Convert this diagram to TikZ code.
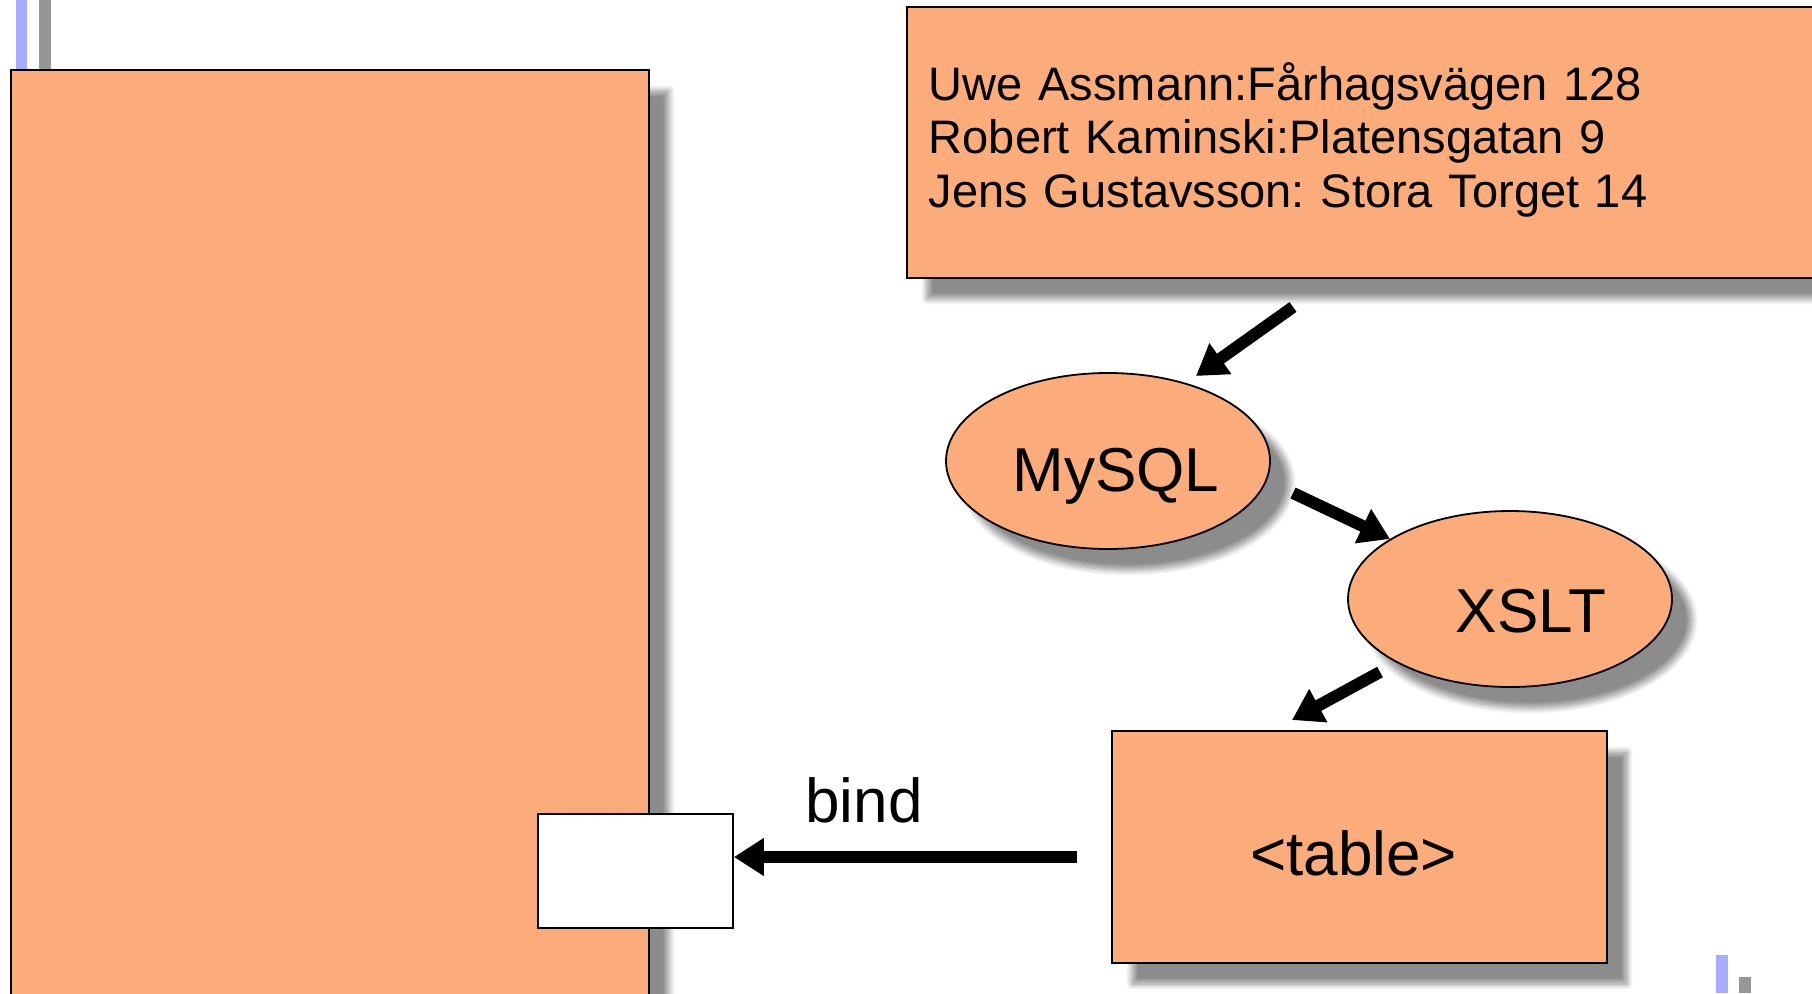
\documentclass[tikz,border=0pt]{standalone}
\usepackage{fontspec}
\setmainfont{Liberation Sans}
\usetikzlibrary{shadows,shadows.blur,arrows.meta,shapes.geometric}
\definecolor{peach}{RGB}{252,171,122}
\definecolor{barblue}{RGB}{170,170,255}
\definecolor{bargray}{RGB}{150,150,150}
\frenchspacing
\begin{document}
\begin{tikzpicture}[x=1pt,y=-1pt,
  shd/.style={blur shadow={shadow xshift=20pt,shadow yshift=-21pt,shadow opacity=45,
    shadow blur radius=6pt,shadow blur steps=8,shadow blur extra rounding=0pt}},
  boxnode/.style={rectangle,draw=black,line width=1.8pt,fill=peach,shd,inner sep=0pt},
  oval/.style={ellipse,draw=black,line width=1.8pt,fill=peach,shd,inner sep=0pt,
    minimum width=324pt,minimum height=176pt,font=\fontsize{62}{70}\selectfont},
  big/.style={font=\fontsize{62}{70}\selectfont},
  arr/.style={line width=12pt,-{Triangle[length=30pt,width=36pt]}}
]
\useasboundingbox (0,0) rectangle (1812,993);
% template bars
\fill[barblue] (16,0) rectangle (27,69);
\fill[bargray] (39,0) rectangle (51,69);
\fill[barblue] (1716,955) rectangle (1728,993);
\fill[bargray] (1739,977) rectangle (1751,993);
% big page rectangle
\node[boxnode,anchor=north west,minimum width=638pt,minimum height=960pt] (page) at (10,69) {};
% data box
\node[boxnode,anchor=north west,minimum width=944pt,minimum height=271pt,
  text width=900pt,inner xsep=22pt,align=left,font=\fontsize{47}{53.5}\selectfont] (data) at (906,6)
  {Uwe Assmann:Fårhagsvägen 128\\Robert Kaminski:Platensgatan 9\\Jens Gustavsson: Stora Torget 14\rule[-15pt]{0pt}{0pt}};
% ellipses
\node[oval,text height=60pt,text depth=0pt] (mysql) at (1108,461) {\hspace*{16pt}MySQL};
\node[oval,text height=66pt,text depth=0pt] (xslt) at (1510,599) {\hspace*{42pt}XSLT};
% table box
\node[boxnode,big,minimum width=495pt,minimum height=232pt,text height=56pt,text depth=0pt] (tbl) at (1359.5,847) {<table>\hspace*{12pt}};
% white slot
\node[rectangle,draw=black,line width=1.8pt,fill=white,minimum width=195pt,minimum height=114pt,inner sep=0pt] (slot) at (635.5,871) {};
% bind label
\node[big,anchor=base,inner sep=0pt] (bindlbl) at (864,822) {bind};
% arrows
\coordinate (a1s) at (1293,307);
\coordinate (a1e) at (1196,376);
\coordinate (a2s) at (1293,493);
\coordinate (a2e) at (1390,539);
\coordinate (a3s) at (1380,672);
\coordinate (a3e) at (1292,720);
\coordinate (bs) at (1077,857);
\draw[arr] (a1s) -- (a1e);
\draw[arr] (a2s) -- (a2e);
\draw[arr] (a3s) -- (a3e);
\draw[arr] (bs) -- (bs -| slot.east);
\end{tikzpicture}
\end{document}
